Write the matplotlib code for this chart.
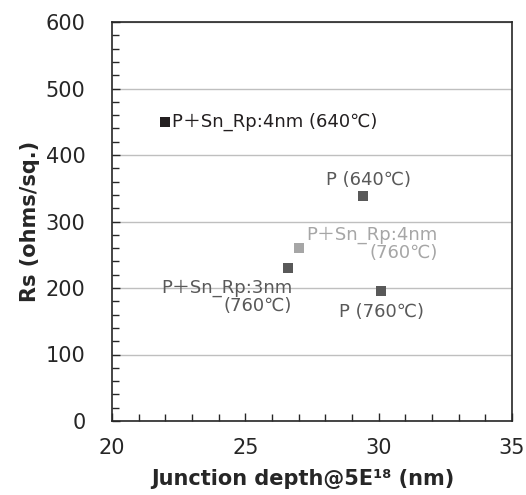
import numpy as np
import matplotlib
matplotlib.use('Agg')
import matplotlib.pyplot as plt
from matplotlib.ticker import MultipleLocator

plt.rcParams['font.family'] = ['DejaVu Sans', 'Noto Sans CJK JP']

# junction depth (nm) vs sheet resistance (ohms/sq.)
labels = ['P＋Sn_Rp:4nm (640℃)', 'P (640℃)', 'P＋Sn_Rp:4nm\n(760℃)',
          'P＋Sn_Rp:3nm\n(760℃)', 'P (760℃)']
depth = [22.0, 29.4, 27.0, 26.6, 30.1]
rs = [450, 338, 260, 230, 195]
colors = ['#231f20', '#595959', '#a6a6a6', '#595959', '#595959']

fig = plt.figure(figsize=(5.26, 4.95), dpi=100)
ax = fig.add_axes([112/526, 1 - 421/495, 400/526, 399/495])

for x, y, c in zip(depth, rs, colors):
    ax.plot(x, y, 's', color=c, markersize=7.7, markeredgewidth=0, zorder=3)

# labels placed next to each point (offsets in points)
fs = 13
ax.annotate(labels[0], (depth[0], rs[0]), xytext=(5, 0), textcoords='offset points',
            ha='left', va='center', fontsize=fs, color=colors[0])
ax.annotate(labels[1], (depth[1], rs[1]), xytext=(4, 12), textcoords='offset points',
            ha='center', va='center', fontsize=fs, color=colors[1])
ax.annotate(labels[2], (depth[2], rs[2]), xytext=(100, 3), textcoords='offset points',
            ha='right', va='center', fontsize=fs, color=colors[2], linespacing=1.0)
ax.annotate(labels[3], (depth[3], rs[3]), xytext=(3, -21), textcoords='offset points',
            ha='right', va='center', fontsize=fs, color=colors[3], linespacing=1.0)
ax.annotate(labels[4], (depth[4], rs[4]), xytext=(0, -15), textcoords='offset points',
            ha='center', va='center', fontsize=fs, color=colors[4])

ax.set_xlim(20, 35)
ax.set_ylim(0, 600)
ax.xaxis.set_major_locator(MultipleLocator(5))
ax.xaxis.set_minor_locator(MultipleLocator(1))
ax.yaxis.set_major_locator(MultipleLocator(100))
ax.yaxis.set_minor_locator(MultipleLocator(20))
ax.tick_params(which='both', direction='in', color='#262626', width=1)
ax.tick_params(which='major', length=6, labelsize=15, colors='#262626')
ax.tick_params(which='minor', length=5)
ax.tick_params(axis='x', which='major', pad=12)
ax.tick_params(axis='y', which='major', pad=19)
ax.grid(axis='y', which='major', color='#bfbfbf', linewidth=1)
ax.set_axisbelow(True)
for s in ax.spines.values():
    s.set_color('#262626')
    s.set_linewidth(1.2)

ax.set_xlabel('Junction depth@5E¹⁸ (nm)', fontsize=15, fontweight='bold', color='#262626', labelpad=7)
ax.xaxis.set_label_coords(0.478, -0.12)
ax.set_ylabel('Rs (ohms/sq.)', fontsize=15, fontweight='bold', color='#262626', labelpad=4)

fig.savefig('out.png', dpi=100)
